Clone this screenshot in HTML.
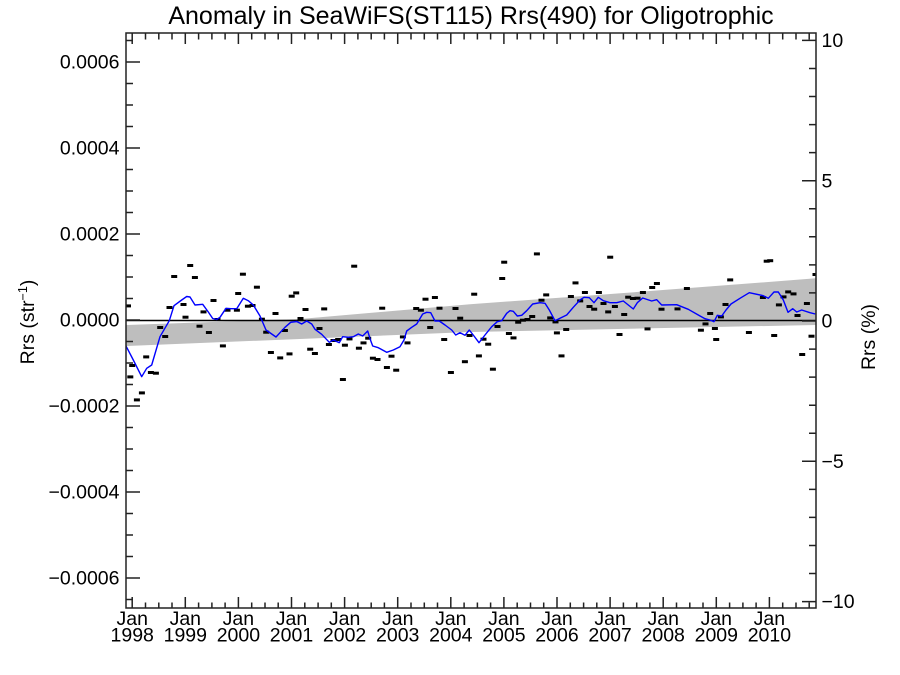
<!DOCTYPE html>
<html>
<head>
<meta charset="utf-8">
<style>
  html, body { margin: 0; padding: 0; background: #ffffff; }
  svg { display: block; }
  text { font-family: "Liberation Sans", Arial, Helvetica, sans-serif; fill: #000; }
</style>
</head>
<body>
<svg width="900" height="675" viewBox="0 0 900 675" xmlns="http://www.w3.org/2000/svg">
  <defs>
    <clipPath id="plot"><rect x="126" y="33" width="690" height="575"/></clipPath>
  </defs>
  <rect x="0" y="0" width="900" height="675" fill="#ffffff"/>

  <text x="471" y="24" font-size="25" text-anchor="middle">Anomaly in SeaWiFS(ST115) Rrs(490) for Oligotrophic</text>

  <g clip-path="url(#plot)">
    <polygon fill="#bebebe" points="126,325 300,319 470,304.3 640,291.8 816,278.3 816,325 640,328.5 470,332 300,339 126,346"/>
    <line x1="126" y1="320.5" x2="816" y2="320.5" stroke="#000" stroke-width="1.4"/>

    <g fill="#000">
      <rect x="125" y="304.4" width="6" height="3"/>
      <rect x="129.2" y="364" width="6" height="3"/>
      <rect x="127.3" y="375.4" width="6" height="3"/>
      <rect x="133.9" y="398.4" width="6" height="3"/>
      <rect x="138.9" y="391.4" width="6" height="3"/>
      <rect x="143.2" y="355.4" width="6" height="3"/>
      <rect x="147.9" y="371" width="6" height="3"/>
      <rect x="152.9" y="371.7" width="6" height="3"/>
      <rect x="157.2" y="326" width="6" height="3"/>
      <rect x="162.2" y="335" width="6" height="3"/>
      <rect x="166.5" y="306" width="6" height="3"/>
      <rect x="171.2" y="275" width="6" height="3"/>
      <rect x="180.5" y="303" width="6" height="3"/>
      <rect x="182.5" y="315.7" width="6" height="3"/>
      <rect x="187.2" y="264" width="6" height="3"/>
      <rect x="191.9" y="276" width="6" height="3"/>
      <rect x="196.5" y="324.7" width="6" height="3"/>
      <rect x="200.5" y="310.4" width="6" height="3"/>
      <rect x="205.9" y="331" width="6" height="3"/>
      <rect x="210.5" y="299" width="6" height="3"/>
      <rect x="214.5" y="318" width="6" height="3"/>
      <rect x="219.9" y="344.4" width="6" height="3"/>
      <rect x="224.5" y="308.7" width="6" height="3"/>
      <rect x="233.9" y="308.7" width="6" height="3"/>
      <rect x="235.2" y="292" width="6" height="3"/>
      <rect x="239.9" y="272.7" width="6" height="3"/>
      <rect x="244.9" y="304.7" width="6" height="3"/>
      <rect x="249.5" y="304" width="6" height="3"/>
      <rect x="253.9" y="285.7" width="6" height="3"/>
      <rect x="258.9" y="317.7" width="6" height="3"/>
      <rect x="263.2" y="330.7" width="6" height="3"/>
      <rect x="267.9" y="351" width="6" height="3"/>
      <rect x="272.5" y="312" width="6" height="3"/>
      <rect x="277.2" y="356.4" width="6" height="3"/>
      <rect x="281.9" y="329" width="6" height="3"/>
      <rect x="286.5" y="352.4" width="6" height="3"/>
      <rect x="288.7" y="294.7" width="6" height="3"/>
      <rect x="293.2" y="291.4" width="6" height="3"/>
      <rect x="297.5" y="317" width="6" height="3"/>
      <rect x="302.5" y="308" width="6" height="3"/>
      <rect x="307.2" y="347.7" width="6" height="3"/>
      <rect x="311.9" y="352" width="6" height="3"/>
      <rect x="316.5" y="327" width="6" height="3"/>
      <rect x="321.2" y="307.4" width="6" height="3"/>
      <rect x="325.9" y="343" width="6" height="3"/>
      <rect x="330.5" y="339" width="6" height="3"/>
      <rect x="335.2" y="338" width="6" height="3"/>
      <rect x="339.9" y="378" width="6" height="3"/>
      <rect x="341.9" y="343.7" width="6" height="3"/>
      <rect x="346.5" y="337.4" width="6" height="3"/>
      <rect x="351.2" y="264.7" width="6" height="3"/>
      <rect x="355.9" y="346.7" width="6" height="3"/>
      <rect x="360.5" y="341.4" width="6" height="3"/>
      <rect x="365.2" y="336.7" width="6" height="3"/>
      <rect x="369.9" y="356.7" width="6" height="3"/>
      <rect x="374.5" y="358" width="6" height="3"/>
      <rect x="379.2" y="306.7" width="6" height="3"/>
      <rect x="383.9" y="366" width="6" height="3"/>
      <rect x="388.5" y="354.7" width="6" height="3"/>
      <rect x="393.2" y="368.7" width="6" height="3"/>
      <rect x="399.9" y="335.4" width="6" height="3"/>
      <rect x="404.5" y="341.4" width="6" height="3"/>
      <rect x="413.2" y="307" width="6" height="3"/>
      <rect x="417.9" y="308.7" width="6" height="3"/>
      <rect x="422.5" y="297.7" width="6" height="3"/>
      <rect x="427.2" y="326" width="6" height="3"/>
      <rect x="431.9" y="296" width="6" height="3"/>
      <rect x="436.5" y="306.7" width="6" height="3"/>
      <rect x="441.2" y="338" width="6" height="3"/>
      <rect x="447.9" y="371" width="6" height="3"/>
      <rect x="452.5" y="307" width="6" height="3"/>
      <rect x="457.2" y="316.7" width="6" height="3"/>
      <rect x="461.9" y="360.2" width="6" height="3"/>
      <rect x="466.5" y="334" width="6" height="3"/>
      <rect x="471.2" y="292.7" width="6" height="3"/>
      <rect x="475.9" y="354.4" width="6" height="3"/>
      <rect x="480.5" y="337.7" width="6" height="3"/>
      <rect x="485.2" y="342.7" width="6" height="3"/>
      <rect x="489.9" y="367.7" width="6" height="3"/>
      <rect x="494.5" y="325" width="6" height="3"/>
      <rect x="499.2" y="277" width="6" height="3"/>
      <rect x="501.2" y="260.7" width="6" height="3"/>
      <rect x="505.9" y="332" width="6" height="3"/>
      <rect x="510.5" y="336.4" width="6" height="3"/>
      <rect x="515.2" y="320.7" width="6" height="3"/>
      <rect x="519.9" y="318.7" width="6" height="3"/>
      <rect x="524.5" y="318" width="6" height="3"/>
      <rect x="529.2" y="315" width="6" height="3"/>
      <rect x="533.9" y="252.4" width="6" height="3"/>
      <rect x="538.5" y="298.7" width="6" height="3"/>
      <rect x="543.2" y="293.4" width="6" height="3"/>
      <rect x="547.2" y="316.4" width="6" height="3"/>
      <rect x="552.5" y="320.4" width="6" height="3"/>
      <rect x="553.9" y="331.4" width="6" height="3"/>
      <rect x="558.5" y="354.4" width="6" height="3"/>
      <rect x="563.2" y="328" width="6" height="3"/>
      <rect x="567.9" y="295" width="6" height="3"/>
      <rect x="572.5" y="281.4" width="6" height="3"/>
      <rect x="577.2" y="299.4" width="6" height="3"/>
      <rect x="581.9" y="291" width="6" height="3"/>
      <rect x="586.5" y="305" width="6" height="3"/>
      <rect x="591.2" y="307.7" width="6" height="3"/>
      <rect x="595.9" y="291" width="6" height="3"/>
      <rect x="600.5" y="302" width="6" height="3"/>
      <rect x="605.2" y="310.4" width="6" height="3"/>
      <rect x="607.2" y="255.7" width="6" height="3"/>
      <rect x="611.9" y="305" width="6" height="3"/>
      <rect x="616.5" y="333" width="6" height="3"/>
      <rect x="621.2" y="313" width="6" height="3"/>
      <rect x="625.2" y="295.7" width="6" height="3"/>
      <rect x="629.9" y="297" width="6" height="3"/>
      <rect x="634.5" y="296.7" width="6" height="3"/>
      <rect x="639.9" y="291" width="6" height="3"/>
      <rect x="644.5" y="327.4" width="6" height="3"/>
      <rect x="649.2" y="286" width="6" height="3"/>
      <rect x="653.9" y="282" width="6" height="3"/>
      <rect x="658.5" y="307.7" width="6" height="3"/>
      <rect x="674.5" y="307.4" width="6" height="3"/>
      <rect x="683.9" y="287" width="6" height="3"/>
      <rect x="697.9" y="328.7" width="6" height="3"/>
      <rect x="702.5" y="322.4" width="6" height="3"/>
      <rect x="707.2" y="312" width="6" height="3"/>
      <rect x="711.9" y="327" width="6" height="3"/>
      <rect x="713.2" y="338" width="6" height="3"/>
      <rect x="717.9" y="315.4" width="6" height="3"/>
      <rect x="722.5" y="303" width="6" height="3"/>
      <rect x="727.2" y="278.4" width="6" height="3"/>
      <rect x="745.9" y="331" width="6" height="3"/>
      <rect x="759.9" y="296" width="6" height="3"/>
      <rect x="763.7" y="259.7" width="6" height="3"/>
      <rect x="767.2" y="259.2" width="6" height="3"/>
      <rect x="771.2" y="334" width="6" height="3"/>
      <rect x="775.9" y="303.4" width="6" height="3"/>
      <rect x="780.5" y="295.4" width="6" height="3"/>
      <rect x="785.2" y="290.4" width="6" height="3"/>
      <rect x="790.5" y="292.4" width="6" height="3"/>
      <rect x="794.5" y="314" width="6" height="3"/>
      <rect x="799.2" y="353" width="6" height="3"/>
      <rect x="803.9" y="302" width="6" height="3"/>
      <rect x="808.5" y="334.7" width="6" height="3"/>
      <rect x="812.5" y="273" width="6" height="3"/>
    </g>

    <polyline fill="none" stroke="#0000ff" stroke-width="1.4" stroke-linejoin="round"
      points="126,346 133.3,360 141.7,376.7 146.7,368.3 151.7,365 160,336.7 169.3,320.7 174,305.7 181.7,300 186.7,296.5 190,297 195,305 202.7,304.3 208.3,312 212.7,318.5 216.7,319.5 220,317.3 226,308.3 231,308.7 236.7,308.7 243.3,298.3 248.3,300.7 253.3,305 260,316 266,330 276,337 285,327.3 290.7,322.3 296.7,321.5 301.7,324 306.7,321 311.7,324 315,329.3 321.7,334.3 329.3,342.3 333.3,340 339.3,342.7 342.7,336.7 348.3,337.3 353.3,336.7 358.3,334 362.7,336 367.7,331 370,338.7 372.7,346 378.3,347.7 386.7,352.3 393.3,350 400,346.7 404,340 406.7,331 411.7,327.3 416.7,324 422.7,314 426.7,312.3 430.7,312.7 435,321 439.3,321 445,325 451.7,330 455.7,335 460,332.7 465,335.3 469.3,330 474,336 479,342.7 485,335 491.7,326.7 497.3,321.7 501.7,320.7 506.7,313.3 510,310.7 513.3,311.3 517.3,316 521.7,315.3 526.7,310.7 532.7,304 540,302.7 545,303.3 549.3,310 555,320.7 560,318.3 566.7,315 573.3,307.3 580,300 584,297.3 589.3,297.7 594,302.7 598.3,297.3 603.3,300.7 610,302.7 616.7,302.7 623.3,301 628.3,305 633.3,309 637.3,302.7 642.7,298 651.7,301 656.7,299.7 661.7,305 676.7,304.7 688.3,309.3 698.3,315 705,318.7 710,320 714,321.7 717.3,315.3 721.7,316 726,310 731,304 740,298.3 749.3,292.7 763.3,295.7 768.3,298.3 774,292 778.3,292 783.3,300 788,312.3 792.7,308.7 796.7,312 801.7,310 810,312.7 815.3,314"/>
  </g>

  <g stroke="#222" stroke-width="1.5" fill="none">
    <path d="M126,33 H816 M126,608 H816 M126,32.3 V608.7 M816,32.3 V608.7"/>
    <path d="M132.2,608 V597 M185.3,608 V597 M238.4,608 V597 M291.5,608 V597 M344.6,608 V597 M397.7,608 V597 M450.8,608 V597 M503.9,608 V597 M557,608 V597 M610.1,608 V597 M663.2,608 V597 M716.3,608 V597 M769.4,608 V597"/>
    <path d="M132.2,33 V44 M185.3,33 V44 M238.4,33 V44 M291.5,33 V44 M344.6,33 V44 M397.7,33 V44 M450.8,33 V44 M503.9,33 V44 M557,33 V44 M610.1,33 V44 M663.2,33 V44 M716.3,33 V44 M769.4,33 V44"/>
    <path d="M145.5,608 V602.5 M158.8,608 V602.5 M172,608 V602.5 M198.6,608 V602.5 M211.9,608 V602.5 M225.1,608 V602.5 M251.7,608 V602.5 M265,608 V602.5 M278.2,608 V602.5 M304.8,608 V602.5 M318.1,608 V602.5 M331.3,608 V602.5 M357.9,608 V602.5 M371.2,608 V602.5 M384.4,608 V602.5 M411,608 V602.5 M424.3,608 V602.5 M437.5,608 V602.5 M464.1,608 V602.5 M477.4,608 V602.5 M490.6,608 V602.5 M517.2,608 V602.5 M530.5,608 V602.5 M543.7,608 V602.5 M570.3,608 V602.5 M583.6,608 V602.5 M596.8,608 V602.5 M623.4,608 V602.5 M636.7,608 V602.5 M649.9,608 V602.5 M676.5,608 V602.5 M689.8,608 V602.5 M703,608 V602.5 M729.6,608 V602.5 M742.9,608 V602.5 M756.1,608 V602.5 M782.7,608 V602.5 M796,608 V602.5 M809.2,608 V602.5"/>
    <path d="M145.5,33 V39.5 M158.8,33 V39.5 M172,33 V39.5 M198.6,33 V39.5 M211.9,33 V39.5 M225.1,33 V39.5 M251.7,33 V39.5 M265,33 V39.5 M278.2,33 V39.5 M304.8,33 V39.5 M318.1,33 V39.5 M331.3,33 V39.5 M357.9,33 V39.5 M371.2,33 V39.5 M384.4,33 V39.5 M411,33 V39.5 M424.3,33 V39.5 M437.5,33 V39.5 M464.1,33 V39.5 M477.4,33 V39.5 M490.6,33 V39.5 M517.2,33 V39.5 M530.5,33 V39.5 M543.7,33 V39.5 M570.3,33 V39.5 M583.6,33 V39.5 M596.8,33 V39.5 M623.4,33 V39.5 M636.7,33 V39.5 M649.9,33 V39.5 M676.5,33 V39.5 M689.8,33 V39.5 M703,33 V39.5 M729.6,33 V39.5 M742.9,33 V39.5 M756.1,33 V39.5 M782.7,33 V39.5 M796,33 V39.5 M809.2,33 V39.5"/>
    <path d="M126,62 H140 M126,148 H140 M126,234 H140 M126,320 H140 M126,406 H140 M126,492 H140 M126,578 H140"/>
    <path d="M126,40.5 H133 M126,83.5 H133 M126,105 H133 M126,126.5 H133 M126,169.5 H133 M126,191 H133 M126,212.5 H133 M126,255.5 H133 M126,277 H133 M126,298.5 H133 M126,341.5 H133 M126,363 H133 M126,384.5 H133 M126,427.5 H133 M126,449 H133 M126,470.5 H133 M126,513.5 H133 M126,535 H133 M126,556.5 H133 M126,599.5 H133"/>
    <path d="M816,40.4 H802 M816,180.7 H802 M816,321 H802 M816,461.3 H802 M816,601.6 H802"/>
    <path d="M816,68.5 H809 M816,96.5 H809 M816,124.6 H809 M816,152.6 H809 M816,208.8 H809 M816,236.8 H809 M816,264.9 H809 M816,292.9 H809 M816,349.1 H809 M816,377.1 H809 M816,405.2 H809 M816,433.2 H809 M816,489.4 H809 M816,517.4 H809 M816,545.5 H809 M816,573.5 H809"/>
  </g>

  <g font-size="19.5" text-anchor="end">
    <text x="119.5" y="68.5">0.0006</text>
    <text x="119.5" y="154.5">0.0004</text>
    <text x="119.5" y="240.5">0.0002</text>
    <text x="119.5" y="326.5">0.0000</text>
    <text x="119.5" y="412.5">−0.0002</text>
    <text x="119.5" y="498.5">−0.0004</text>
    <text x="119.5" y="584.5">−0.0006</text>
  </g>

  <g font-size="19.5" text-anchor="start">
    <text x="821.5" y="47">10</text>
    <text x="821.5" y="187.3">5</text>
    <text x="821.5" y="327.6">0</text>
    <text x="821.5" y="467.9">−5</text>
    <text x="821.5" y="608.2">−10</text>
  </g>

  <g font-size="19.5" text-anchor="middle">
    <text x="132.2" y="624.8">Jan</text><text x="132.2" y="641.7">1998</text>
    <text x="185.3" y="624.8">Jan</text><text x="185.3" y="641.7">1999</text>
    <text x="238.4" y="624.8">Jan</text><text x="238.4" y="641.7">2000</text>
    <text x="291.5" y="624.8">Jan</text><text x="291.5" y="641.7">2001</text>
    <text x="344.6" y="624.8">Jan</text><text x="344.6" y="641.7">2002</text>
    <text x="397.7" y="624.8">Jan</text><text x="397.7" y="641.7">2003</text>
    <text x="450.8" y="624.8">Jan</text><text x="450.8" y="641.7">2004</text>
    <text x="503.9" y="624.8">Jan</text><text x="503.9" y="641.7">2005</text>
    <text x="557" y="624.8">Jan</text><text x="557" y="641.7">2006</text>
    <text x="610.1" y="624.8">Jan</text><text x="610.1" y="641.7">2007</text>
    <text x="663.2" y="624.8">Jan</text><text x="663.2" y="641.7">2008</text>
    <text x="716.3" y="624.8">Jan</text><text x="716.3" y="641.7">2009</text>
    <text x="769.4" y="624.8">Jan</text><text x="769.4" y="641.7">2010</text>
  </g>

  <text transform="translate(34,322) rotate(-90)" font-size="19.5" text-anchor="middle">Rrs (str<tspan font-size="12.5" dy="-7">−1</tspan><tspan dy="7">)</tspan></text>
  <text transform="translate(875,337) rotate(-90)" font-size="19.5" text-anchor="middle">Rrs (%)</text>
</svg>
</body>
</html>
